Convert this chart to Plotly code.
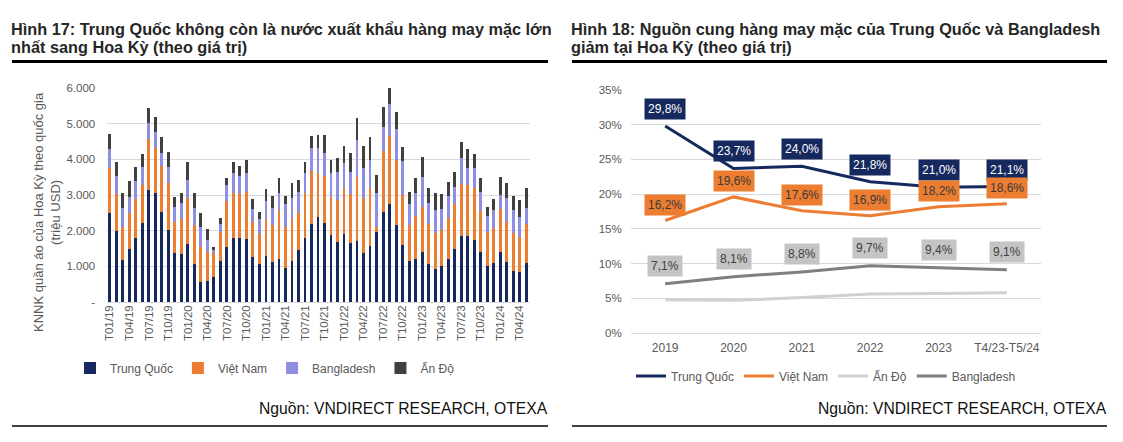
import plotly.graph_objects as go

W, H = 1123, 442

# ---------------- Left chart data (million USD) ----------------
months = [
    "T01/19", "T02/19", "T03/19", "T04/19", "T05/19", "T06/19", "T07/19", "T08/19", "T09/19", "T10/19", "T11/19", "T12/19",
    "T01/20", "T02/20", "T03/20", "T04/20", "T05/20", "T06/20", "T07/20", "T08/20", "T09/20", "T10/20", "T11/20", "T12/20",
    "T01/21", "T02/21", "T03/21", "T04/21", "T05/21", "T06/21", "T07/21", "T08/21", "T09/21", "T10/21", "T11/21", "T12/21",
    "T01/22", "T02/22", "T03/22", "T04/22", "T05/22", "T06/22", "T07/22", "T08/22", "T09/22", "T10/22", "T11/22", "T12/22",
    "T01/23", "T02/23", "T03/23", "T04/23", "T05/23", "T06/23", "T07/23", "T08/23", "T09/23", "T10/23", "T11/23", "T12/23",
    "T01/24", "T02/24", "T03/24", "T04/24", "T05/24",
]
month_ticks = ["T01/19", "T04/19", "T07/19", "T10/19", "T01/20", "T04/20", "T07/20", "T10/20",
               "T01/21", "T04/21", "T07/21", "T10/21", "T01/22", "T04/22", "T07/22", "T10/22",
               "T01/23", "T04/23", "T07/23", "T10/23", "T01/24", "T04/24"]

china_m = [2490, 1990, 1180, 1490, 1790, 2220, 3140, 3070, 2530, 2020, 1380, 1340,
           1620, 1070, 570, 590, 710, 1150, 1550, 1790, 1790, 1780, 1250, 1070,
           1290, 1130, 1210, 950, 1140, 1460, 1790, 2180, 2390, 2220, 1880, 1690,
           1900, 1660, 1700, 1360, 1570, 1960, 2520, 2740, 2160, 1590, 1150, 1200,
           1390, 1070, 930, 1020, 1210, 1490, 1850, 1850, 1740, 1390, 1020, 1080,
           1390, 1110, 880, 850, 1080]
vietnam_m = [1260, 1040, 930, 1010, 1090, 1050, 1430, 1240, 1280, 1310, 870, 980,
             1290, 1090, 980, 820, 650, 820, 1280, 1260, 1240, 1300, 1000, 840,
             1030, 1030, 1340, 1160, 1180, 1040, 1260, 1500, 1240, 1320, 1070, 1170,
             1290, 1370, 1810, 1550, 1640, 150, 1720, 1910, 1820, 1410, 1010, 1210,
             1280, 1120, 1000, 1000, 1140, 1250, 1450, 1420, 1450, 1160, 950, 990,
             1210, 1140, 1050, 980, 1100]
bangladesh_m = [530, 500, 530, 450, 520, 520, 440, 470, 380, 450, 420, 450,
                510, 480, 560, 330, 110, 220, 440, 580, 500, 530, 360, 410,
                520, 480, 520, 630, 610, 590, 580, 650, 680, 650, 660, 780,
                700, 620, 1030, 860, 770, 940, 680, 900, 860, 950, 590, 640,
                840, 580, 650, 580, 620, 490, 750, 500, 560, 540, 440, 510,
                400, 660, 650, 560, 450]
india_m = [420, 400, 430, 440, 390, 350, 440, 400, 430, 430, 280, 280,
           510, 430, 380, 310, 80, 170, 220, 290, 290, 370, 280, 190,
           340, 340, 410, 220, 400, 330, 300, 330, 370, 490, 370, 390,
           480, 540, 630, 590, 640, 510, 540, 440, 500, 390, 330, 420,
           550, 420, 490, 440, 390, 420, 430, 510, 390, 380, 260, 310,
           510, 440, 390, 470, 560]

left_yticks = [0, 1000, 2000, 3000, 4000, 5000, 6000]
left_yticktext = ["-", "1.000", "2.000", "3.000", "4.000", "5.000", "6.000"]

# ---------------- Right chart data (% share) ----------------
periods = ["2019", "2020", "2021", "2022", "2023", "T4/23-T5/24"]
china_s = [29.8, 23.7, 24.0, 21.8, 21.0, 21.1]
vietnam_s = [16.2, 19.6, 17.6, 16.9, 18.2, 18.6]
india_s = [4.8, 4.7, 5.1, 5.6, 5.7, 5.8]
bangladesh_s = [7.1, 8.1, 8.8, 9.7, 9.4, 9.1]

right_yticks = [0, 5, 10, 15, 20, 25, 30, 35]
right_yticktext = ["0%", "5%", "10%", "15%", "20%", "25%", "30%", "35%"]

C_CN = "#16295E"
C_VN = "#ED7D31"
C_BD = "#8E8EE3"
C_IN = "#404040"
C_IN_LINE = "#D0D0D0"
C_BD_LINE = "#7F7F7F"
GRID = "#D9D9D9"
TXT = "#595959"
FONT = "Liberation Sans, Arial, sans-serif"


def px(x):
    return x / W


def py(y):
    return 1 - y / H


fig = go.Figure()

for name, vals, col in [("Trung Quốc", china_m, C_CN), ("Việt Nam", vietnam_m, C_VN),
                        ("Bangladesh", bangladesh_m, C_BD), ("Ấn Độ", india_m, C_IN)]:
    fig.add_trace(go.Bar(x=months, y=vals, name=name, marker=dict(color=col, line=dict(width=0)),
                         xaxis="x", yaxis="y", legend="legend"))

for name, vals, col in [("Trung Quốc", china_s, C_CN), ("Việt Nam", vietnam_s, C_VN),
                        ("Ấn Độ", india_s, C_IN_LINE), ("Bangladesh", bangladesh_s, C_BD_LINE)]:
    fig.add_trace(go.Scatter(x=periods, y=vals, name=name, mode="lines",
                             line=dict(color=col, width=3), xaxis="x2", yaxis="y2",
                             legend="legend2"))


def fmt(v):
    return f"{v:.1f}".replace(".", ",") + "%"


annotations = []
for vals, bg, fc, shift in [(china_s, C_CN, "white", 17), (vietnam_s, C_VN, "#3A3A3A", 16),
                            (bangladesh_s, "#C4C4C4", "#404040", 18)]:
    for i, v in enumerate(vals):
        # category index on the x2 axis
        annotations.append(dict(x=i, y=v, xref="x2", yref="y2", text=fmt(v), showarrow=False,
                                yshift=shift, bgcolor=bg, borderpad=3,
                                font=dict(family=FONT, size=12, color=fc)))

# titles (one annotation per line for exact line spacing)
for x0, lines in [(9, ["Hình 17: Trung Quốc không còn là nước xuất khẩu hàng may mặc lớn",
                       "nhất sang Hoa Kỳ (theo giá trị)"]),
                  (569, ["Hình 18: Nguồn cung hàng may mặc của Trung Quốc và Bangladesh",
                         "giảm tại Hoa Kỳ (theo giá trị)"])]:
    for k, line in enumerate(lines):
        annotations.append(dict(x=px(x0), y=py(29 + 18 * k), xref="paper", yref="paper",
                                xanchor="left", yanchor="middle", showarrow=False,
                                text="<b>" + line + "</b>",
                                font=dict(family=FONT, size=16.3, color="#262626")))
# sources
for xr in (550, 1109):
    annotations.append(dict(x=px(xr), y=py(408), xref="paper", yref="paper", xanchor="right",
                            yanchor="middle", showarrow=False, text="Nguồn: VNDIRECT RESEARCH, OTEXA",
                            font=dict(family=FONT, size=15.7, color="#111111")))
# left y-axis title
annotations.append(dict(x=px(47), y=py(212), xref="paper", yref="paper", xanchor="center",
                        yanchor="middle", showarrow=False, textangle=-90,
                        text="KNNK quần áo của Hoa Kỳ theo quốc gia<br>(triệu USD)",
                        font=dict(family=FONT, size=13, color=TXT)))

shapes = []
for x0, x1 in [(12, 548), (572, 1107)]:
    shapes.append(dict(type="line", xref="paper", yref="paper", x0=px(x0), x1=px(x1),
                       y0=py(61.5), y1=py(61.5), line=dict(color="black", width=3)))
    shapes.append(dict(type="line", xref="paper", yref="paper", x0=px(x0), x1=px(x1),
                       y0=py(426), y1=py(426), line=dict(color="black", width=1.3)))

fig.update_layout(
    width=W, height=H, autosize=False,
    margin=dict(l=0, r=0, t=0, b=0, pad=0, autoexpand=False),
    paper_bgcolor="white", plot_bgcolor="white",
    font=dict(family=FONT, color=TXT),
    separators=",.",
    barmode="stack", bargap=0.56,
    showlegend=True,
    xaxis=dict(domain=[px(106.5), px(529.5)], anchor="y", type="category",
               tickmode="array", tickvals=month_ticks, ticktext=month_ticks,
               tickangle=-90, tickfont=dict(size=11.5, color=TXT), showgrid=False,
               showline=False, ticks="", fixedrange=True),
    yaxis=dict(domain=[py(302), py(88)], anchor="x", range=[0, 6000],
               tickmode="array", tickvals=left_yticks, ticktext=left_yticktext,
               showgrid=True, gridcolor=GRID, gridwidth=1, zeroline=True, zerolinecolor=GRID,
               zerolinewidth=1, showline=False, tickfont=dict(size=11.5, color=TXT),
               ticks="outside", ticklen=8, tickcolor="rgba(0,0,0,0)"),
    xaxis2=dict(domain=[px(631), px(1041)], anchor="y2", type="category",
                categoryorder="array", categoryarray=periods, range=[-0.5, 5.5],
                tickfont=dict(size=12, color=TXT), showgrid=False, showline=False,
                ticks="outside", ticklen=4, tickcolor="rgba(0,0,0,0)"),
    yaxis2=dict(domain=[py(333), py(90)], anchor="x2", range=[0, 35],
                tickmode="array", tickvals=right_yticks, ticktext=right_yticktext,
                showgrid=True, gridcolor=GRID, gridwidth=1, zeroline=True, zerolinecolor=GRID,
                zerolinewidth=1, showline=False, tickfont=dict(size=11.5, color=TXT),
                ticks="outside", ticklen=6, tickcolor="rgba(0,0,0,0)"),
    legend=dict(orientation="h", x=px(265), xanchor="center", y=py(368), yanchor="middle",
                traceorder="normal", font=dict(size=12, color=TXT), bgcolor="rgba(0,0,0,0)"),
    legend2=dict(orientation="h", x=px(826), xanchor="center", y=py(376), yanchor="middle",
                 traceorder="normal", font=dict(size=12, color=TXT), bgcolor="rgba(0,0,0,0)"),
    annotations=annotations,
    shapes=shapes,
)

fig.write_html("out.html",
               post_script="document.body.style.margin='0';document.documentElement.style.overflow='hidden';",
               config={"displayModeBar": False, "responsive": False})
